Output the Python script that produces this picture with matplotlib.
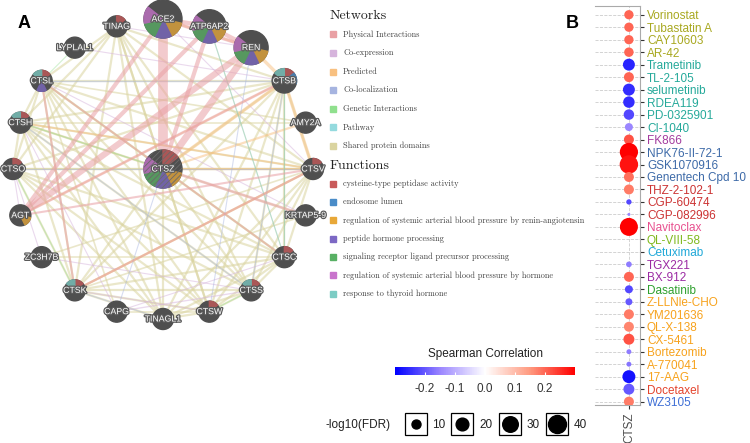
import itertools
import numpy as np
import matplotlib as mpl
import matplotlib.pyplot as plt
import matplotlib.patheffects as pe
from matplotlib.patches import Wedge, Circle, Rectangle
from matplotlib.colors import LinearSegmentedColormap, to_rgb
from matplotlib.cm import ScalarMappable

mpl.rcParams['font.family'] = ['Liberation Sans', 'DejaVu Sans']
mpl.rcParams['axes.unicode_minus'] = False
mpl.rcParams['hatch.linewidth'] = 0.6

# ---------------- panel A data (GeneMANIA) ----------------
query_gene = 'CTSZ'
ring_genes = ['ACE2', 'ATP6AP2', 'REN', 'CTSB', 'AMY2A', 'CTSV', 'KRTAP5-9', 'CTSC',
              'CTSS', 'CTSW', 'TINAGL1', 'CAPG', 'CTSK', 'ZC3H7B', 'AGT', 'CTSO',
              'CTSH', 'CTSL', 'LYPLAL1', 'TINAG']
node_score = {'CTSZ': 1.0, 'ACE2': 1.0, 'ATP6AP2': 0.72, 'REN': 0.76, 'CTSB': 0.2}

net_types = ['Physical Interactions', 'Co-expression', 'Predicted', 'Co-localization',
             'Genetic Interactions', 'Pathway', 'Shared protein domains']
net_colors = ['#e9a0a4', '#d6b4dc', '#f8c080', '#a6b4e0', '#90e08e', '#94dade', '#dad4a0']

func_names = ['cysteine-type peptidase activity', 'endosome lumen',
              'regulation of systemic arterial blood pressure by renin-angiotensin',
              'peptide hormone processing', 'signaling receptor ligand precursor processing',
              'regulation of systemic arterial blood pressure by hormone',
              'response to thyroid hormone']
func_colors = ['#c85a5a', '#4a8cc8', '#e8a838', '#7c68c4', '#58b064', '#c874cc', '#7cccc4']

# functions annotated for each gene (index into func_names)
gene_funcs = {'CTSZ': [0, 2, 3, 4, 5], 'ACE2': [2, 3, 4, 5], 'ATP6AP2': [2, 3, 4, 5],
              'REN': [2, 3, 4, 5], 'CTSB': [0, 1, 6], 'CTSV': [0], 'CTSC': [0],
              'CTSS': [0, 6], 'CTSW': [0], 'CTSK': [0, 6], 'AGT': [2], 'CTSO': [0],
              'CTSH': [0, 6], 'CTSL': [0, 3, 6], 'TINAG': [0]}

# (gene, gene, network type, weight)
edges = [
    ('CTSZ', 'ACE2', 0, 7), ('CTSZ', 'REN', 0, 5), ('CTSZ', 'ATP6AP2', 0, 3),
    ('AGT', 'REN', 0, 4.5), ('AGT', 'ACE2', 0, 3), ('AGT', 'ATP6AP2', 0, 3),
    ('ACE2', 'ATP6AP2', 0, 3), ('ACE2', 'REN', 0, 2.5), ('ATP6AP2', 'REN', 0, 3),
    ('CTSZ', 'KRTAP5-9', 0, 2), ('AGT', 'CTSB', 0, 2), ('AGT', 'CTSV', 0, 1.5),
    ('CTSK', 'CTSL', 0, 1.5), ('CTSL', 'CTSC', 0, 1.2), ('CTSK', 'CTSV', 0, 1.5),
    ('LYPLAL1', 'CTSB', 1, 1), ('CAPG', 'CTSS', 1, 1.2), ('CTSO', 'AGT', 1, 1),
    ('CTSH', 'CAPG', 1, 1), ('CTSK', 'CTSW', 1, 1), ('TINAG', 'REN', 1, 1),
    ('ZC3H7B', 'CTSS', 1, 1), ('CTSL', 'KRTAP5-9', 1, 1), ('CAPG', 'CTSC', 1, 1),
    ('ZC3H7B', 'CTSO', 1, 1), ('ACE2', 'CTSV', 1, 1),
    ('REN', 'CTSB', 2, 3), ('CTSZ', 'CTSB', 2, 3), ('CTSB', 'CTSV', 2, 3),
    ('CTSK', 'CTSV', 2, 2), ('AGT', 'CTSB', 2, 1.5), ('CTSZ', 'AMY2A', 2, 2),
    ('ACE2', 'REN', 2, 2), ('CTSZ', 'CTSV', 2, 2), ('CTSH', 'CTSV', 2, 1.5),
    ('REN', 'CTSW', 3, 1), ('CTSL', 'CTSB', 3, 1.2), ('CTSZ', 'CAPG', 3, 1),
    ('CTSB', 'CTSS', 3, 1), ('CTSB', 'CTSC', 3, 1), ('CTSO', 'CTSV', 3, 1),
    ('CTSK', 'TINAGL1', 3, 1), ('ATP6AP2', 'CTSC', 3, 1), ('CTSH', 'CTSS', 3, 1),
    ('LYPLAL1', 'CTSL', 4, 1), ('CTSB', 'CTSC', 4, 1), ('ATP6AP2', 'CTSC', 4, 1),
    ('CTSH', 'CTSZ', 4, 1), ('CTSS', 'CTSW', 4, 1), ('CTSO', 'CTSK', 4, 1),
    ('ZC3H7B', 'CTSV', 6, 1.2), ('ZC3H7B', 'CTSC', 6, 1.2), ('KRTAP5-9', 'CTSH', 6, 1.2),
    ('AMY2A', 'CTSL', 6, 1.2), ('AMY2A', 'CTSH', 6, 1.2), ('CAPG', 'CTSW', 6, 1.2),
    ('CAPG', 'CTSL', 6, 1.2), ('KRTAP5-9', 'CTSK', 6, 1.2),
]
domain_genes = ['CTSB', 'CTSV', 'CTSC', 'CTSS', 'CTSW', 'TINAGL1', 'CTSK', 'CTSO',
                'CTSH', 'CTSL', 'TINAG', 'CTSZ']
edges += [(a, b, 6, 1.6) for a, b in itertools.combinations(domain_genes, 2)]

# ---------------- panel B data (GDSC drug sensitivity) ----------------
drugs = ['Vorinostat', 'Tubastatin A', 'CAY10603', 'AR-42', 'Trametinib', 'TL-2-105',
         'selumetinib', 'RDEA119', 'PD-0325901', 'CI-1040', 'FK866', 'NPK76-II-72-1',
         'GSK1070916', 'Genentech Cpd 10', 'THZ-2-102-1', 'CGP-60474', 'CGP-082996',
         'Navitoclax', 'QL-VIII-58', 'Cetuximab', 'TGX221', 'BX-912', 'Dasatinib',
         'Z-LLNle-CHO', 'YM201636', 'QL-X-138', 'CX-5461', 'Bortezomib', 'A-770041',
         '17-AAG', 'Docetaxel', 'WZ3105']
corr = [0.20, 0.20, 0.20, 0.20, -0.26, 0.20, -0.25, -0.25, -0.22, -0.15, 0.22, 0.30,
        0.28, 0.19, 0.18, -0.22, -0.15, 0.30, np.nan, np.nan, -0.16, 0.20, -0.22,
        -0.20, 0.18, 0.17, 0.22, -0.16, -0.17, -0.28, -0.20, 0.18]
fdr = [10.6, 10.6, 10.6, 11, 17.7, 12.3, 17.7, 16.3, 13.6, 7.9, 12.3, 41, 42, 12.3,
       12.3, 3.5, 1.1, 40, np.nan, np.nan, 4, 12.3, 7.9, 6, 12.3, 12.3, 14.9, 3, 3,
       20.8, 14.9, 12.3]
drug_class = ['HDAC', 'HDAC', 'HDAC', 'HDAC', 'MEK', 'MEK', 'MEK', 'MEK', 'MEK', 'MEK',
              'NAMPT', 'Aurora', 'Aurora', 'Aurora', 'CDK', 'CDK', 'CDK', 'BCL2',
              'EGFR', 'EGFRab', 'PI3K', 'PI3K', 'SRC', 'Other', 'Other', 'Other',
              'Other', 'Other', 'Other', 'Other', 'Taxane', 'Kinase']
class_colors = {'HDAC': '#a8a820', 'MEK': '#25a99a', 'NAMPT': '#a33c9e',
                'Aurora': '#3d6aa8', 'CDK': '#cc3333', 'BCL2': '#e8508f',
                'EGFR': '#7fb81c', 'EGFRab': '#1fa8d8', 'PI3K': '#9b2aa3',
                'SRC': '#2ea02e', 'Other': '#f7a21c', 'Taxane': '#e4432c',
                'Kinase': '#3f6fd6'}
size_breaks = [10, 20, 30, 40]
corr_ticks = [-0.2, -0.1, 0.0, 0.1, 0.2]

cmap = LinearSegmentedColormap.from_list(
    'spearman', [(0, '#0000ff'), (0.25, '#9b86ff'), (0.5, '#ffffff'),
                 (0.75, '#ff9a80'), (1, '#ff0000')])

fig = plt.figure(figsize=(7.5, 4.43), dpi=100)
ax = fig.add_axes([0, 0, 1, 1])
ax.set_xlim(0, 750)
ax.set_ylim(443, 0)
ax.axis('off')

# ---- network layout (pixel coordinates) ----
cx, cy, R = 163, 169, 150
pos = {query_gene: (cx, cy)}
for i, g in enumerate(ring_genes):
    ang = np.deg2rad(90 - 18 * i)
    pos[g] = (cx + R * np.cos(ang), cy - R * np.sin(ang))

edge_alpha = [0.55, 0.5, 0.5, 0.45, 0.4, 0.5, 0.55]
order = sorted(range(len(edges)), key=lambda k: (edges[k][2] != 6, edges[k][2] == 0))
for k in order:
    a, b, t, w = edges[k]
    (x1, y1), (x2, y2) = pos[a], pos[b]
    ax.plot([x1, x2], [y1, y2], color=net_colors[t], lw=w if t in (0, 6) else 0.8 * w,
            alpha=edge_alpha[t], solid_capstyle='butt', zorder=1)

node_gray = np.array(to_rgb('#4f4f4f'))
for g, (x, y) in pos.items():
    r = 10.5 + 8.5 * node_score.get(g, 0)
    ax.add_patch(Circle((x, y), r, color='#4f4f4f', zorder=3))
    for f in gene_funcs.get(g, []):
        # slices go clockwise from the top, one per function
        t1 = 90 - 360 / 7 * f
        col = 0.75 * np.array(to_rgb(func_colors[f])) + 0.25 * node_gray
        # y axis is inverted, so mirror the angles
        ax.add_patch(Wedge((x, y), r, -t1, -(t1 - 360 / 7), color=col, zorder=4))
    if g == query_gene:
        ax.add_patch(Circle((x, y), r, fill=False, hatch='//////', ec='#6a6a6a',
                            lw=0, zorder=4.5))
    ax.text(x, y, g, ha='center', va='center', fontsize=6.3, color='white', zorder=5,
            path_effects=[pe.withStroke(linewidth=1.8, foreground='#5a5a5a')])

# ---- network legend ----
serif = 'cmr10'
ax.text(330, 16, 'Networks', fontsize=10, family=serif, color='#222222', va='center')
for i, (name, col) in enumerate(zip(net_types, net_colors)):
    yy = 34.3 + i * 18.6
    ax.add_patch(Rectangle((330, yy - 3), 6, 6, color=col))
    ax.text(343, yy, name, fontsize=6, family=serif, color='#444444', va='center')
ax.text(330, 166, 'Functions', fontsize=10, family=serif, color='#222222', va='center')
for i, (name, col) in enumerate(zip(func_names, func_colors)):
    yy = 183.7 + i * 18.35
    ax.add_patch(Rectangle((330, yy - 3), 6, 6, color=col))
    ax.text(343, yy, name, fontsize=6, family=serif, color='#444444', va='center')

ax.text(24, 23, 'A', fontsize=13, fontweight='bold', ha='center', va='center')
ax.text(572, 23, 'B', fontsize=13, fontweight='bold', ha='center', va='center')

# ---------------- panel B: dot plot ----------------
axb = fig.add_axes([595 / 750, 38 / 443, 45 / 750, 399 / 443])
n = len(drugs)
yv = np.arange(n)
axb.scatter(np.zeros(n), yv, s=4.2 * np.array(fdr), c=corr, cmap=cmap,
            vmin=-0.3, vmax=0.3, zorder=3, linewidths=0)
axb.set_ylim(n - 1 + 0.27, -0.7)
axb.set_xlim(-2.75, 0.9)
axb.set_xticks([0])
axb.set_xticklabels([query_gene], rotation=90, fontsize=8.5, color='#4d4d4d')
axb.yaxis.tick_right()
axb.set_yticks(yv)
axb.set_yticklabels(drugs, fontsize=8.5)
for lab, cl in zip(axb.get_yticklabels(), drug_class):
    lab.set_color(class_colors[cl])
axb.tick_params(length=3, width=0.8, color='#333333', pad=2)
axb.grid(True, ls='--', color='#cccccc', lw=0.6)
axb.set_axisbelow(True)
axb.spines['left'].set_visible(False)
for s in ['top', 'bottom', 'right']:
    axb.spines[s].set_color('#aaaaaa')
    axb.spines[s].set_linewidth(0.8)

# colour bar
axc = fig.add_axes([395 / 750, (443 - 375) / 443, 180 / 750, 8 / 443])
cb = fig.colorbar(ScalarMappable(cmap=cmap, norm=mpl.colors.Normalize(-0.3, 0.3)),
                  cax=axc, orientation='horizontal')
cb.outline.set_visible(False)
cb.set_ticks(corr_ticks)
cb.set_ticklabels(['%.1f' % v for v in corr_ticks])
axc.tick_params(direction='in', color='white', length=2, width=0.8, labelsize=8.5,
                labelcolor='#333333', pad=6)
ax.text(486, 354, 'Spearman Correlation', fontsize=8.5, ha='center', va='center',
        color='#222222')

# size legend
ax.text(326, 425, '-log10(FDR)', fontsize=8.5, ha='left', va='center', color='#222222')
box_x = [415.5, 462, 510, 557]
for bx, v in zip(box_x, size_breaks):
    ax.add_patch(Rectangle((bx - 11, 413), 22, 22, fill=False, ec='black', lw=0.9))
    ax.scatter([bx], [424], s=4.2 * v, color='black', zorder=3)
    ax.text(bx + 17, 425, str(v), fontsize=8.5, ha='left', va='center', color='#222222')

fig.savefig('out.png', dpi=100)
